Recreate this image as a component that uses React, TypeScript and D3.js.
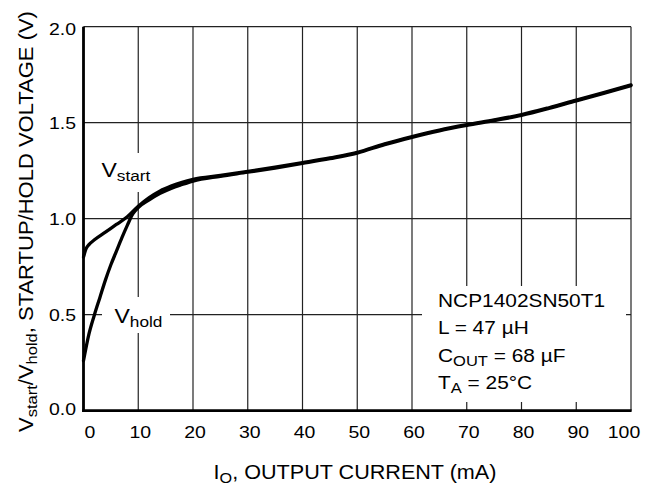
import React from "react";
import * as d3 from "d3";

const xTicks = [0, 10, 20, 30, 40, 50, 60, 70, 80, 90, 100];
const yTicks = [0, 0.5, 1.0, 1.5, 2.0];
const yTickLabels = ["0.0", "0.5", "1.0", "1.5", "2.0"];

const startCurrent = [0, 0.5, 1, 2, 4, 6, 8, 10, 12, 14, 16, 18, 20, 25, 30, 35, 40, 45, 50, 55, 60, 65, 70, 75, 80, 85, 90, 95, 100];
const startVoltage = [0.80, 0.845, 0.865, 0.89, 0.93, 0.97, 1.01, 1.065, 1.11, 1.145, 1.17, 1.19, 1.205, 1.225, 1.246, 1.268, 1.292, 1.317, 1.346, 1.39, 1.428, 1.462, 1.49, 1.515, 1.542, 1.578, 1.618, 1.657, 1.697];

const holdCurrent = [0, 1, 2, 3, 4, 5, 6, 7, 8, 9, 10, 12, 14, 16, 18, 20, 25, 30, 35, 40, 45, 50, 55, 60, 65, 70, 75, 80, 85, 90, 95, 100];
const holdVoltage = [0.26, 0.40, 0.50, 0.59, 0.68, 0.76, 0.83, 0.90, 0.965, 1.025, 1.058, 1.098, 1.132, 1.158, 1.178, 1.196, 1.221, 1.242, 1.264, 1.288, 1.313, 1.342, 1.386, 1.424, 1.458, 1.486, 1.511, 1.538, 1.574, 1.614, 1.653, 1.693];

const annotationLines = ["NCP1402SN50T1", "L = 47 µH", "C|OUT| = 68 µF", "T|A| = 25°C"];

const FONT = "'Liberation Sans', Arial, Helvetica, sans-serif";

const x = d3.scaleLinear().domain([0, 100]).range([83.5, 631]);
const y = d3.scaleLinear().domain([0, 2]).range([410.7, 26.7]);

function ST({ x: px, y: py, anchor = "start", size, sx = 1.15, rotate = 0, children }: any) {
  const t = `translate(${px},${py})${rotate ? ` rotate(${rotate})` : ""} scale(${sx},1)`;
  return (
    <text transform={t} textAnchor={anchor} fontSize={size} fontFamily={FONT} fill="#000">
      {children}
    </text>
  );
}

function withSub(line: string, subSize: number, shift: number) {
  const parts = line.split("|");
  return parts.map((p, i) =>
    i % 2 === 1 ? (
      <tspan key={i} fontSize={subSize} dy={shift}>{p}</tspan>
    ) : (
      <tspan key={i} dy={i > 0 ? -shift : 0}>{p}</tspan>
    )
  );
}

export default function App() {
  const line = d3
    .line<[number, number]>()
    .x((d) => x(d[0]))
    .y((d) => y(d[1]))
    .curve(d3.curveMonotoneX);
  const startPts = startCurrent.map((c, i) => [c, startVoltage[i]] as [number, number]);
  const holdPts = holdCurrent.map((c, i) => [c, holdVoltage[i]] as [number, number]);

  const xLabelOffset = (v: number) => (v === 0 ? 6.5 : v === 100 ? -7 : 2);
  const yLabelOffset = (v: number) => (v === 2 ? 8 : v === 0 ? 4 : 6);

  return (
    <svg width={654} height={487} style={{ position: "absolute", left: 0, top: 0, background: "#fff" }}>
      <rect x={0} y={0} width={654} height={487} fill="#fff" />
      {/* grid */}
      {xTicks.map((t) => (
        <line key={"gx" + t} x1={x(t)} x2={x(t)} y1={y(2)} y2={y(0)} stroke="#222" strokeWidth={1.2} />
      ))}
      {yTicks.map((t) => (
        <line key={"gy" + t} x1={x(0)} x2={x(100)} y1={y(t)} y2={y(t)} stroke="#222" strokeWidth={1.2} />
      ))}
      {/* white label backgrounds */}
      <rect x={97} y={153} width={56} height={39} fill="#fff" />
      <rect x={102} y={297} width={68} height={36} fill="#fff" />
      <rect x={422} y={286} width={204} height={116} fill="#fff" />
      {/* axes */}
      <line x1={x(0)} x2={x(0)} y1={y(2)} y2={y(0) + 1.3} stroke="#000" strokeWidth={2.8} />
      <line x1={x(0) - 1.3} x2={x(100) + 0.6} y1={y(0)} y2={y(0)} stroke="#000" strokeWidth={2.8} />
      {/* curves */}
      <path d={line(startPts) || ""} fill="none" stroke="#000" strokeWidth={3.3} strokeLinecap="round" />
      <path d={line(holdPts) || ""} fill="none" stroke="#000" strokeWidth={3.3} strokeLinecap="round" />
      {/* tick labels */}
      {xTicks.map((t) => (
        <ST key={"xl" + t} x={x(t) + xLabelOffset(t)} y={438} anchor="middle" size={16.5} sx={1.18}>
          {String(t)}
        </ST>
      ))}
      {yTicks.map((t, i) => (
        <ST key={"yl" + t} x={76} y={y(t) + yLabelOffset(t)} anchor="end" size={16.5} sx={1.18}>
          {yTickLabels[i]}
        </ST>
      ))}
      {/* curve labels */}
      <ST x={101.5} y={177} size={20} sx={1.15}>
        {withSub("V|start|", 15, 4)}
      </ST>
      <ST x={114.5} y={323} size={20} sx={1.15}>
        {withSub("V|hold|", 15, 4)}
      </ST>
      {/* annotation */}
      {annotationLines.map((l, i) => (
        <ST key={"an" + i} x={438} y={307 + i * 27.3} size={17.7} sx={1.18}>
          {withSub(l, 14, 4)}
        </ST>
      ))}
      {/* axis titles */}
      <ST x={355} y={479} anchor="middle" size={20} sx={1.08}>
        {withSub("I|O|, OUTPUT CURRENT (mA)", 15, 4)}
      </ST>
      <ST x={33} y={221.5} anchor="middle" size={20} sx={1.1} rotate={-90}>
        {withSub("V|start|/V|hold|, STARTUP/HOLD VOLTAGE (V)", 15, 4)}
      </ST>
    </svg>
  );
}
